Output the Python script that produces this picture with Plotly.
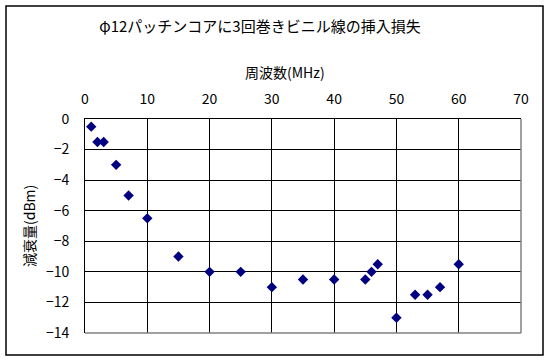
import plotly.graph_objects as go

freq_mhz = [1, 2, 3, 5, 7, 10, 15, 20, 25, 30, 35, 40, 45, 46, 47, 50, 53, 55, 57, 60]
loss_db = [-0.5, -1.5, -1.5, -3, -5, -6.5, -9, -10, -10, -11, -10.5, -10.5, -10.5, -10, -9.5, -13, -11.5, -11.5, -11, -9.5]
x_ticks = [0, 10, 20, 30, 40, 50, 60, 70]
y_ticks = [0, -2, -4, -6, -8, -10, -12, -14]

title_text = "φ12パッチンコアに3回巻きビニル線の挿入損失"
x_title = "周波数(MHz)"
y_title = "減衰量(dBm)"

FONT = "Noto Sans CJK JP, Noto Sans, sans-serif"
W, H = 550, 363
L, R, T, B = 85, 521, 119, 333
pw, ph = R - L, B - T

def px_x(p):
    return (p - L) / pw

def px_y(p):
    return (B - p) / ph

fig = go.Figure()
fig.add_trace(go.Scatter(
    x=freq_mhz, y=loss_db, mode="markers",
    marker=dict(symbol="diamond", size=8, color="#000080", line=dict(width=0)),
    showlegend=False, hoverinfo="x+y",
))

fig.update_layout(
    width=W, height=H,
    margin=dict(l=L, r=W - R, t=T, b=H - B, pad=0, autoexpand=False),
    paper_bgcolor="white", plot_bgcolor="white",
    font=dict(family=FONT, color="black", size=14),
    title=dict(text=title_text, x=260 / W, xanchor="center",
               y=1 - 27 / H, yanchor="middle",
               font=dict(family=FONT, size=15, color="black")),
    xaxis=dict(range=[0, 70], side="top", tickvals=x_ticks, ticks="",
               showgrid=True, gridcolor="black", gridwidth=1,
               showline=True, linecolor="black", linewidth=1,
               zeroline=False, ticklabelstandoff=8, automargin=False,
               tickfont=dict(size=14)),
    yaxis=dict(range=[-14, 0], tickvals=y_ticks, ticks="",
               showgrid=True, gridcolor="black", gridwidth=1,
               showline=True, linecolor="black", linewidth=1,
               zeroline=False, ticklabelstandoff=12, automargin=False,
               tickfont=dict(size=14)),
    annotations=[
        dict(text=x_title, xref="paper", yref="paper", x=px_x(285), y=px_y(72),
             xanchor="center", yanchor="middle", showarrow=False,
             font=dict(family=FONT, size=14, color="black")),
        dict(text=y_title, xref="paper", yref="paper", x=px_x(29), y=px_y(226),
             xanchor="center", yanchor="middle", showarrow=False, textangle=-90,
             font=dict(family=FONT, size=14, color="black")),
    ],
    shapes=[
        dict(type="line", xref="paper", yref="paper", x0=1, x1=1, y0=0, y1=1,
             line=dict(color="#808080", width=1.5), layer="above"),
        dict(type="line", xref="paper", yref="paper", x0=0, x1=1, y0=0, y1=0,
             line=dict(color="#808080", width=1.5), layer="above"),
        dict(type="rect", xref="paper", yref="paper",
             x0=px_x(6), x1=px_x(543), y0=px_y(355), y1=px_y(6),
             line=dict(color="black", width=1.5), layer="above"),
    ],
)

fig.write_html("out.html", config={"displayModeBar": False},
               post_script="document.body.style.margin='0';")
